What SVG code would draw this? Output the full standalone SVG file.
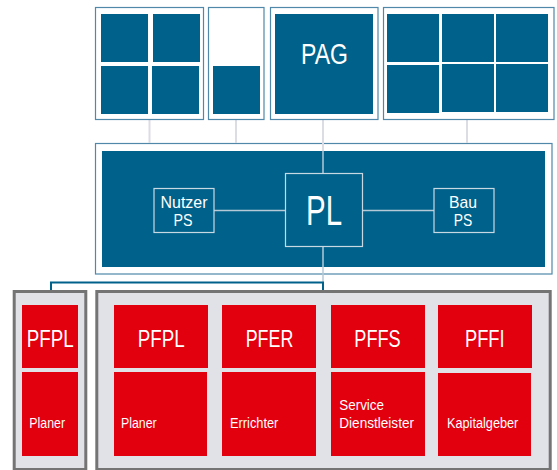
<svg xmlns="http://www.w3.org/2000/svg" width="557" height="470" viewBox="0 0 557 470">
<style>
.frame{fill:#fff;stroke:#4f88a8;stroke-width:1.2}
.blue{fill:#00618a}
.inbox{fill:#00618a;stroke:#c9d9e4;stroke-width:1.2}
.grey{fill:#e1e1e8;stroke:#747474;stroke-width:3}
.red{fill:#e2000f}
.conn{stroke:#dcdce4;stroke-width:2;fill:none}
.inconn{stroke:#b5c9d6;stroke-width:1.5;fill:none}
.bl{stroke:#00618a;stroke-width:2;fill:none}
text{font-family:"Liberation Sans",Arial,sans-serif;fill:#fff}
.big{font-size:23px;text-anchor:middle}
.sm{font-size:14px}
.mid{font-size:17px;text-anchor:middle}
</style>
<g id="PLframe">
<rect class="frame" x="95.5" y="143.5" width="456.5" height="130.5"/>
<rect class="blue" x="102" y="151" width="443" height="116"/>
</g>
<g id="connectors">
<line class="conn" x1="149.5" y1="120" x2="149.5" y2="143"/>
<line class="conn" x1="236" y1="120" x2="236" y2="143"/>
<line class="conn" x1="323" y1="120" x2="323" y2="151"/>
<line class="inconn" x1="323" y1="151" x2="323" y2="173"/>
<line class="conn" x1="467" y1="120" x2="467" y2="143"/>
<line class="inconn" x1="214" y1="210.5" x2="285" y2="210.5"/>
<line class="inconn" x1="362" y1="210.5" x2="434" y2="210.5"/>
<line class="inconn" x1="323" y1="247" x2="323" y2="282"/>
<polyline class="bl" points="51,291 51,282.5 323,282.5 323,291"/>
</g>
<g id="top1">
<rect class="frame" x="95.5" y="7.5" width="108" height="112"/>
<rect class="blue" x="101" y="14" width="47" height="48"/>
<rect class="blue" x="153" y="14" width="47" height="48"/>
<rect class="blue" x="101" y="66" width="47" height="48"/>
<rect class="blue" x="152" y="66" width="47" height="48"/>
</g>
<g id="top2">
<rect class="frame" x="208.5" y="7.5" width="55.5" height="112"/>
<rect class="blue" x="213" y="66" width="47" height="48"/>
</g>
<g id="PAG">
<rect class="frame" x="270.5" y="7.5" width="107.5" height="112"/>
<rect class="blue" x="275" y="14" width="98" height="100"/>
<text x="324.5" y="64" font-size="29" text-anchor="middle" textLength="47" lengthAdjust="spacingAndGlyphs">PAG</text>
</g>
<g id="top4">
<rect class="frame" x="383.5" y="7.5" width="170.5" height="112"/>
<rect class="blue" x="387" y="14" width="52" height="48"/>
<rect class="blue" x="442" y="14" width="52" height="48"/>
<rect class="blue" x="496" y="14" width="52" height="48"/>
<rect class="blue" x="387" y="65" width="52" height="48"/>
<rect class="blue" x="442" y="64" width="52" height="48"/>
<rect class="blue" x="496" y="64" width="52" height="48"/>
</g>
<g id="NutzerPS">
<rect class="inbox" x="154" y="188.5" width="60" height="44"/>
<text class="mid" x="184" y="208.3" textLength="47" lengthAdjust="spacingAndGlyphs">Nutzer</text>
<text class="mid" x="183" y="225.7" textLength="19" lengthAdjust="spacingAndGlyphs">PS</text>
</g>
<g id="PL">
<rect class="inbox" x="285.5" y="173.5" width="77" height="73"/>
<text x="324" y="225" font-size="42" text-anchor="middle" textLength="36" lengthAdjust="spacingAndGlyphs">PL</text>
</g>
<g id="BauPS">
<rect class="inbox" x="434" y="188.5" width="60" height="44"/>
<text class="mid" x="463" y="208.3" textLength="28" lengthAdjust="spacingAndGlyphs">Bau</text>
<text class="mid" x="463" y="225.7" textLength="18.5" lengthAdjust="spacingAndGlyphs">PS</text>
</g>
<g id="leftgroup">
<rect class="grey" x="14.2" y="291.5" width="71.6" height="178"/>
<rect class="red" x="22" y="305" width="56" height="63"/>
<text class="big" x="50.3" y="346.7" textLength="47" lengthAdjust="spacingAndGlyphs">PFPL</text>
<rect class="red" x="22" y="372" width="56" height="84"/>
<text class="sm" x="29.3" y="428.3" textLength="35.7" lengthAdjust="spacingAndGlyphs">Planer</text>
</g>
<g id="rightgroup">
<rect class="grey" x="96.8" y="291.5" width="453.4" height="178"/>
</g>
<g id="PFPL">
<rect class="red" x="114" y="305" width="94" height="63"/>
<text class="big" x="161.3" y="346.7" textLength="47" lengthAdjust="spacingAndGlyphs">PFPL</text>
<rect class="red" x="114" y="372" width="93" height="84"/>
<text class="sm" x="121" y="428.3" textLength="35.7" lengthAdjust="spacingAndGlyphs">Planer</text>
</g>
<g id="PFER">
<rect class="red" x="222" y="305" width="94" height="63"/>
<text class="big" x="269.5" y="346.7" textLength="47.6" lengthAdjust="spacingAndGlyphs">PFER</text>
<rect class="red" x="222" y="372" width="94" height="84"/>
<text class="sm" x="230" y="428.3" textLength="48.3" lengthAdjust="spacingAndGlyphs">Errichter</text>
</g>
<g id="PFFS">
<rect class="red" x="331" y="305" width="94" height="63"/>
<text class="big" x="377.5" y="346.7" textLength="46.4" lengthAdjust="spacingAndGlyphs">PFFS</text>
<rect class="red" x="331" y="372" width="94" height="84"/>
<text class="sm" x="339.3" y="410" textLength="44.7" lengthAdjust="spacingAndGlyphs">Service</text>
<text class="sm" x="339.3" y="428.3" textLength="74.7" lengthAdjust="spacingAndGlyphs">Dienstleister</text>
</g>
<g id="PFFI">
<rect class="red" x="438" y="305" width="94" height="63"/>
<text class="big" x="484.8" y="346.7" textLength="39.7" lengthAdjust="spacingAndGlyphs">PFFI</text>
<rect class="red" x="438" y="373" width="93" height="83"/>
<text class="sm" x="447" y="428.3" textLength="71.3" lengthAdjust="spacingAndGlyphs">Kapitalgeber</text>
</g>
</svg>
